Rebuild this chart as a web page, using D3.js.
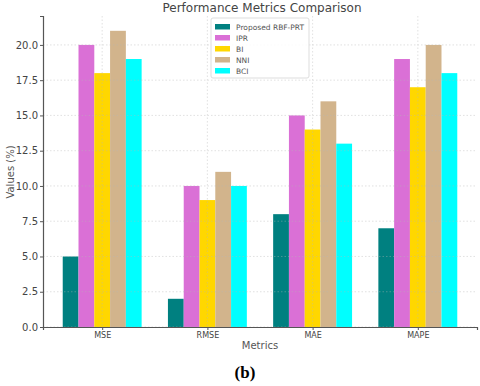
<!DOCTYPE html>
<html>
<head>
<meta charset="utf-8">
<script src="https://cdn.jsdelivr.net/npm/d3@7"></script>
<style>
  body { margin: 0; background: #fff; }
  text { font-family: "DejaVu Sans", sans-serif; }
</style>
</head>
<body>
<div id="chart"></div>
<script>
var metrics = ["MSE", "RMSE", "MAE", "MAPE"];
var methods = ["Proposed RBF-PRT", "IPR", "BI", "NNI", "BCI"];
var colors = ["#008080", "#DA70D6", "#FFD700", "#D2B48C", "#00FFFF"];
// values per method, one per metric
var rbfPrt = [5, 2, 8, 7];
var ipr = [20, 10, 15, 19];
var bi = [18, 9, 14, 17];
var nni = [21, 11, 16, 20];
var bci = [19, 10, 13, 18];
var yTicks = [0, 2.5, 5, 7.5, 10, 12.5, 15, 17.5, 20];

var series = [rbfPrt, ipr, bi, nni, bci];

var svgWidth = 480, svgHeight = 386;
var margin = {top: 16, right: 3, bottom: 59, left: 43};
var chartWidth = svgWidth - margin.left - margin.right;
var chartHeight = svgHeight - margin.top - margin.bottom;

var svg = d3.select("#chart").append("svg")
  .attr("width", svgWidth)
  .attr("height", svgHeight);

var chartGroup = svg.append("g")
  .attr("transform", `translate(${margin.left}, ${margin.top})`);

var xScale = d3.scaleLinear().domain([-0.5625, 3.5625]).range([0, chartWidth]);
var yScale = d3.scaleLinear().domain([0, 22.05]).range([chartHeight, 0]);
var barW = xScale(0.15) - xScale(0);

// bars
methods.forEach(function(m, j) {
  chartGroup.append("g")
    .selectAll("rect")
    .data(series[j])
    .enter()
    .append("rect")
    .attr("x", (d, i) => xScale(i + (j - 2) * 0.15 - 0.075))
    .attr("y", d => yScale(d))
    .attr("width", barW)
    .attr("height", d => chartHeight - yScale(d))
    .style("fill", colors[j]);
});

// grid on top
var grid = chartGroup.append("g").attr("stroke", "#b8b8b8").attr("stroke-width", 0.8)
  .attr("stroke-dasharray", "1.5,2").attr("opacity", 0.5);
grid.selectAll(".hg").data(yTicks).enter().append("line")
  .attr("x1", 0).attr("x2", chartWidth)
  .attr("y1", d => yScale(d)).attr("y2", d => yScale(d));
grid.selectAll(".vg").data(metrics).enter().append("line")
  .attr("y1", 0).attr("y2", chartHeight)
  .attr("x1", (d, i) => xScale(i)).attr("x2", (d, i) => xScale(i));

// axes
var yAxis = d3.axisLeft(yScale).tickValues(yTicks).tickFormat(d3.format(".1f")).tickSize(3).tickPadding(2);
var xAxis = d3.axisBottom(xScale).tickValues([0, 1, 2, 3]).tickFormat(i => metrics[i]).tickSize(3).tickPadding(2);

var yg = chartGroup.append("g").call(yAxis);
var xg = chartGroup.append("g").attr("transform", `translate(0, ${chartHeight})`).call(xAxis);
[yg, xg].forEach(function(g) {
  g.select(".domain").attr("stroke", "#555").attr("stroke-width", 1.2);
  g.selectAll(".tick line").attr("stroke", "#555");
  g.selectAll(".tick text").attr("fill", "#444").attr("font-size", 10).style("font-family", "DejaVu Sans");
});
xg.selectAll(".tick text").attr("font-size", 8);

// title and labels
svg.append("text").attr("x", 262).attr("y", 12).attr("text-anchor", "middle")
  .attr("font-size", 12).attr("fill", "#444").text("Performance Metrics Comparison");
svg.append("text").attr("x", 260).attr("y", 349).attr("text-anchor", "middle")
  .attr("font-size", 10).attr("fill", "#555").text("Metrics");
svg.append("text").attr("transform", "translate(14, 172) rotate(-90)").attr("text-anchor", "middle")
  .attr("font-size", 10).attr("fill", "#555").text("Values (%)");
svg.append("text").attr("x", 245).attr("y", 378).attr("text-anchor", "middle")
  .attr("font-size", 17).attr("font-weight", "bold").attr("fill", "#000")
  .style("font-family", "Liberation Serif, serif").text("(b)");

// legend
var legend = svg.append("g").attr("transform", "translate(211, 18)");
legend.append("rect").attr("width", 98).attr("height", 60).attr("rx", 2)
  .attr("fill", "#fff").attr("fill-opacity", 0.85).attr("stroke", "#ddd");
var items = legend.selectAll(".item").data(methods).enter().append("g")
  .attr("transform", (d, i) => `translate(4, ${5 + i * 11})`);
items.append("rect").attr("width", 15).attr("height", 5.5).attr("y", 1).style("fill", (d, i) => colors[i]);
items.append("text").attr("x", 21).attr("y", 6.5).attr("font-size", 7.5).attr("fill", "#555").text(d => d);
</script>
</body>
</html>
